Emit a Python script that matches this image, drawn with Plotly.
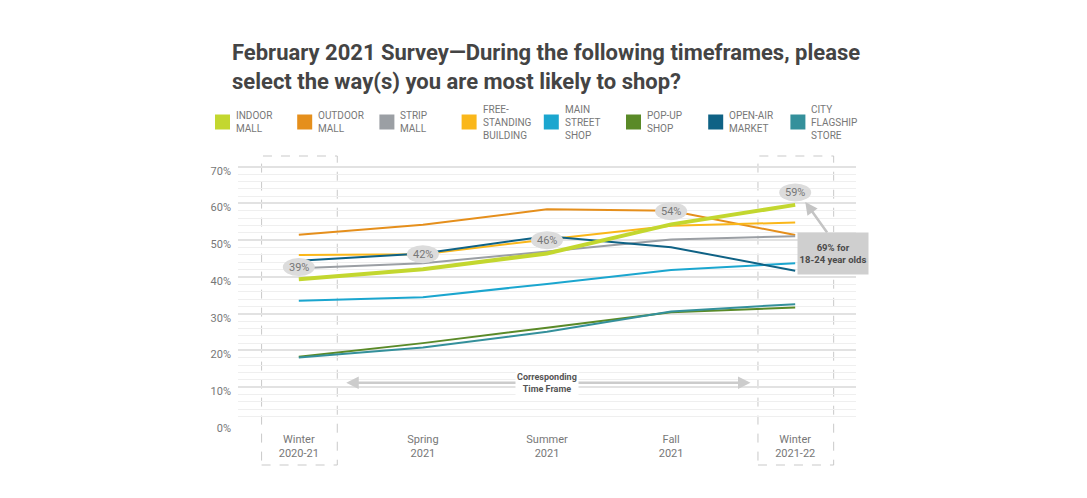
import plotly.graph_objects as go

# ---------------- data ----------------
periods = ["Winter<br>2020-21", "Spring<br>2021", "Summer<br>2021", "Fall<br>2021", "Winter<br>2021-22"]

series_names = ["OUTDOOR<br>MALL", "STRIP<br>MALL", "FREE-<br>STANDING<br>BUILDING", "MAIN<br>STREET<br>SHOP",
                "POP-UP<br>SHOP", "OPEN-AIR<br>MARKET", "CITY<br>FLAGSHIP<br>STORE", "INDOOR<br>MALL"]

indoor_mall = [39.4, 42.1, 46.4, 54.3, 59.6]
outdoor_mall = [51.5, 54.2, 58.4, 58.0, 51.4]
strip_mall = [42.4, 43.7, 46.9, 50.2, 51.1]
free_standing = [46.0, 46.2, 50.2, 53.9, 54.8]
main_street = [33.5, 34.5, 38.1, 41.9, 43.7]
pop_up = [18.3, 22.0, 26.2, 30.4, 31.7]
open_air = [44.4, 46.4, 51.1, 48.1, 41.7]
city_flagship = [18.1, 20.8, 25.1, 30.6, 32.6]

y_ticks = [0, 10, 20, 30, 40, 50, 60, 70]
y_tick_labels = ["0%", "10%", "20%", "30%", "40%", "50%", "60%", "70%"]

# callout bubbles (indoor mall values) and their label positions
bubble_text = ["39%", "42%", "46%", "54%", "59%"]
bubble_y = [42.7, 46.2, 50.0, 57.9, 63.0]

legend_order = ["INDOOR<br>MALL", "OUTDOOR<br>MALL", "STRIP<br>MALL", "FREE-<br>STANDING<br>BUILDING",
                "MAIN<br>STREET<br>SHOP", "POP-UP<br>SHOP", "OPEN-AIR<br>MARKET", "CITY<br>FLAGSHIP<br>STORE"]

colors = {
    "INDOOR<br>MALL": "#c3d72f",
    "OUTDOOR<br>MALL": "#e58f1c",
    "STRIP<br>MALL": "#9b9fa4",
    "FREE-<br>STANDING<br>BUILDING": "#fab71a",
    "MAIN<br>STREET<br>SHOP": "#1ba6cf",
    "POP-UP<br>SHOP": "#5a8a28",
    "OPEN-AIR<br>MARKET": "#0f6285",
    "CITY<br>FLAGSHIP<br>STORE": "#34909b",
}
values = {
    "INDOOR<br>MALL": indoor_mall,
    "OUTDOOR<br>MALL": outdoor_mall,
    "STRIP<br>MALL": strip_mall,
    "FREE-<br>STANDING<br>BUILDING": free_standing,
    "MAIN<br>STREET<br>SHOP": main_street,
    "POP-UP<br>SHOP": pop_up,
    "OPEN-AIR<br>MARKET": open_air,
    "CITY<br>FLAGSHIP<br>STORE": city_flagship,
}

FONT = "Roboto"
W, H = 1071, 482
ML, MT, PW, PH = 230, 148, 618, 268
xs = list(range(len(periods)))


def px_x(p):
    return (p - ML) / PW


def px_y(p):
    return (MT + PH - p) / PH


fig = go.Figure()

# lines
for name in series_names:
    fig.add_trace(go.Scatter(
        x=xs, y=values[name], mode="lines", name=name.replace("<br>", " "), showlegend=False,
        hoverinfo="skip",
        line=dict(color=colors[name], width=4 if name.startswith("INDOOR") else 2),
    ))

# legend swatches + labels
for i, name in enumerate(legend_order):
    left = 207 + 82.2 * i
    fig.add_shape(type="rect", xref="paper", yref="paper",
                  x0=px_x(left), x1=px_x(left + 15), y0=px_y(114 + 7.5), y1=px_y(114 - 7.5),
                  fillcolor=colors[name], line=dict(width=0))
    fig.add_annotation(xref="paper", yref="paper", x=px_x(left + 19), y=px_y(114), xanchor="left",
                       yanchor="middle", text=name, showarrow=False, align="left",
                       font=dict(family=FONT, size=10, color="#777777"))

# dashed boxes around first and last period
for cx in (0, 4):
    fig.add_shape(type="rect", xref="x", yref="paper", x0=cx - 0.3, x1=cx + 0.31, y0=-0.153, y1=1.0,
                  line=dict(color="#c9c9c9", width=1, dash="dash"), layer="below")

# bubbles
for i, (t, yv) in enumerate(zip(bubble_text, bubble_y)):
    fig.add_shape(type="circle", xref="x", yref="y", xsizemode="pixel", ysizemode="pixel",
                  xanchor=i, yanchor=yv, x0=-16, x1=16, y0=-9, y1=9,
                  fillcolor="#dcdcdc", line=dict(width=0), layer="above")
    fig.add_annotation(x=i, y=yv, text=t, showarrow=False,
                       font=dict(family=FONT, size=11, color="#777777"))

# corresponding time frame arrow
fig.add_annotation(x=3.64, y=11.2, ax=0.37, ay=11.2, axref="x", ayref="y", xref="x", yref="y",
                   text="", showarrow=True, arrowside="end+start", arrowhead=2, arrowsize=1,
                   arrowwidth=2.5, arrowcolor="#cccccc")
fig.add_annotation(x=2.0, y=11.1, text="<b>Corresponding<br>Time Frame</b>", showarrow=False,
                   bgcolor="white", font=dict(family=FONT, size=9, color="#555555"))

# 18-24 callout
fig.add_annotation(x=4.081, y=60.4, ax=4.266, ay=51.7, axref="x", ayref="y", xref="x", yref="y",
                   text="", showarrow=True, arrowhead=2, arrowsize=1, arrowwidth=2.5,
                   arrowcolor="#c4c4c4")
fig.add_annotation(x=4.306, y=46.4, text="<b>69% for<br>18-24 year olds</b>", showarrow=False,
                   bgcolor="#cfcfcf", width=68, height=39, align="center",
                   font=dict(family=FONT, size=9.5, color="#4a4a4a"))

fig.update_layout(
    width=W, height=H,
    margin=dict(l=ML, r=W - ML - PW, t=MT, b=H - MT - PH),
    paper_bgcolor="white", plot_bgcolor="white",
    font=dict(family=FONT, color="#777777"),
    title=dict(
        text="<b>February 2021 Survey\u2014During the following timeframes, please<br>select the way(s) you are most likely to shop?</b>",
        xref="container", yref="container", x=224 / W, xanchor="left",
        y=1 - 52 / H, yanchor="top",
        font=dict(family=FONT, size=22, color="#444444"),
    ),
    showlegend=False,
    xaxis=dict(
        range=[-0.49, 4.49], tickvals=xs, ticktext=periods, showgrid=False, zeroline=False,
        showline=False, ticks="", tickfont=dict(family=FONT, size=11, color="#777777"),
        ticklabelstandoff=7,
    ),
    yaxis=dict(
        range=[0, 72.9], tickvals=y_ticks, ticktext=y_tick_labels,
        showgrid=True, gridcolor="#e2e2e2", gridwidth=1.5, zeroline=False, showline=False,
        ticks="", tickfont=dict(family=FONT, size=11, color="#777777"), ticklabelstandoff=6,
        ticklabelshift=4,
        minor=dict(tickvals=[v for v in range(2, 70, 2) if v % 10 != 0], showgrid=True,
                   gridcolor="#efefef", gridwidth=1),
    ),
)

fig.write_html("out.html")
